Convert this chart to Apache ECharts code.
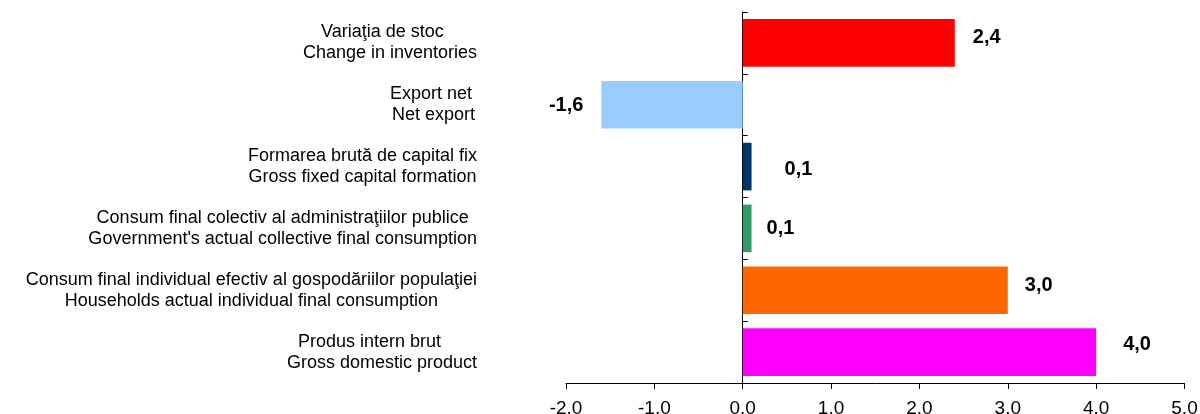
<!DOCTYPE html>
<html>
<head>
<meta charset="utf-8">
<script src="https://cdn.jsdelivr.net/npm/echarts@6/dist/echarts.min.js"></script>
<style>
html,body{margin:0;padding:0;background:#fff;}
#chart{width:1200px;height:414px;}
</style>
</head>
<body>
<div id="chart"></div>
<script>
// ---- data ----
const categoriesRo = [
  'Variaţia de stoc   ',
  'Export net ',
  'Formarea brută de capital fix',
  'Consum final colectiv al administraţiilor publice',
  'Consum final individual efectiv al gospodăriilor populaţiei',
  'Produs intern brut     '
];
const categoriesEn = [
  'Change in inventories',
  'Net export',
  'Gross fixed capital formation',
  "Government's actual collective final consumption",
  'Households actual individual final consumption',
  'Gross domestic product'
];
const values = [2.4, -1.6, 0.1, 0.1, 3.0, 4.0];
const xMin = -2, xMax = 5, xStep = 1;

// ---- styles ----
const barColors = ['#FF0000', '#99CCFF', '#003366', '#339966', '#FF6600', '#FF00FF'];
const labelDistance = [18, 18, 33, 15, 17, 27];
const labelDy = [-5, 1, 2.5, 0.5, -5, -8];

const categories = categoriesRo.map((ro, i) => ro + '\n' + categoriesEn[i]);

const chart = echarts.init(document.getElementById('chart'), null, {renderer: 'canvas'});

const FONT = 'Liberation Sans, Arial, sans-serif';

const option = {
  backgroundColor: '#fff',
  animation: false,
  grid: {left: 566, right: 15.5, top: 12, bottom: 31, containLabel: false, outerBoundsMode: 'none'},
  xAxis: {
    type: 'value',
    min: xMin, max: xMax, interval: xStep,
    splitLine: {show: false},
    axisLine: {show: true, onZero: false, lineStyle: {color: '#000', width: 1}},
    axisTick: {show: true, inside: false, length: 6, lineStyle: {color: '#000'}},
    axisLabel: {
      margin: 16,
      color: '#000',
      fontFamily: FONT,
      fontSize: 19,
      formatter: v => v.toFixed(1)
    }
  },
  yAxis: {
    type: 'category',
    inverse: true,
    data: categories,
    axisLine: {show: true, onZero: true, lineStyle: {color: '#000', width: 1}},
    axisTick: {show: true, inside: true, length: 5, lineStyle: {color: '#000'}},
    splitLine: {show: false},
    axisLabel: {
      margin: 89,
      align: 'right',
      color: '#000',
      fontFamily: FONT,
      fontSize: 18,
      lineHeight: 21,
      formatter: v => v.split('\n').map(s => '{c|' + s + '}').join('\n'),
      rich: {
        c: {
          align: 'center',
          color: '#000',
          fontFamily: FONT,
          fontSize: 18,
          lineHeight: 21
        }
      }
    }
  },
  series: [{
    type: 'bar',
    barCategoryGap: '23%',
    data: values.map((v, i) => ({
      value: v,
      itemStyle: {color: barColors[i]},
      label: {
        show: true,
        position: v < 0 ? 'left' : 'right',
        distance: labelDistance[i],
        offset: [0, labelDy[i]],
        color: '#000',
        fontFamily: FONT,
        fontWeight: 'bold',
        fontSize: 20,
        formatter: p => p.value.toFixed(1).replace('.', ',')
      }
    }))
  }]
};
chart.setOption(option);
</script>
</body>
</html>
